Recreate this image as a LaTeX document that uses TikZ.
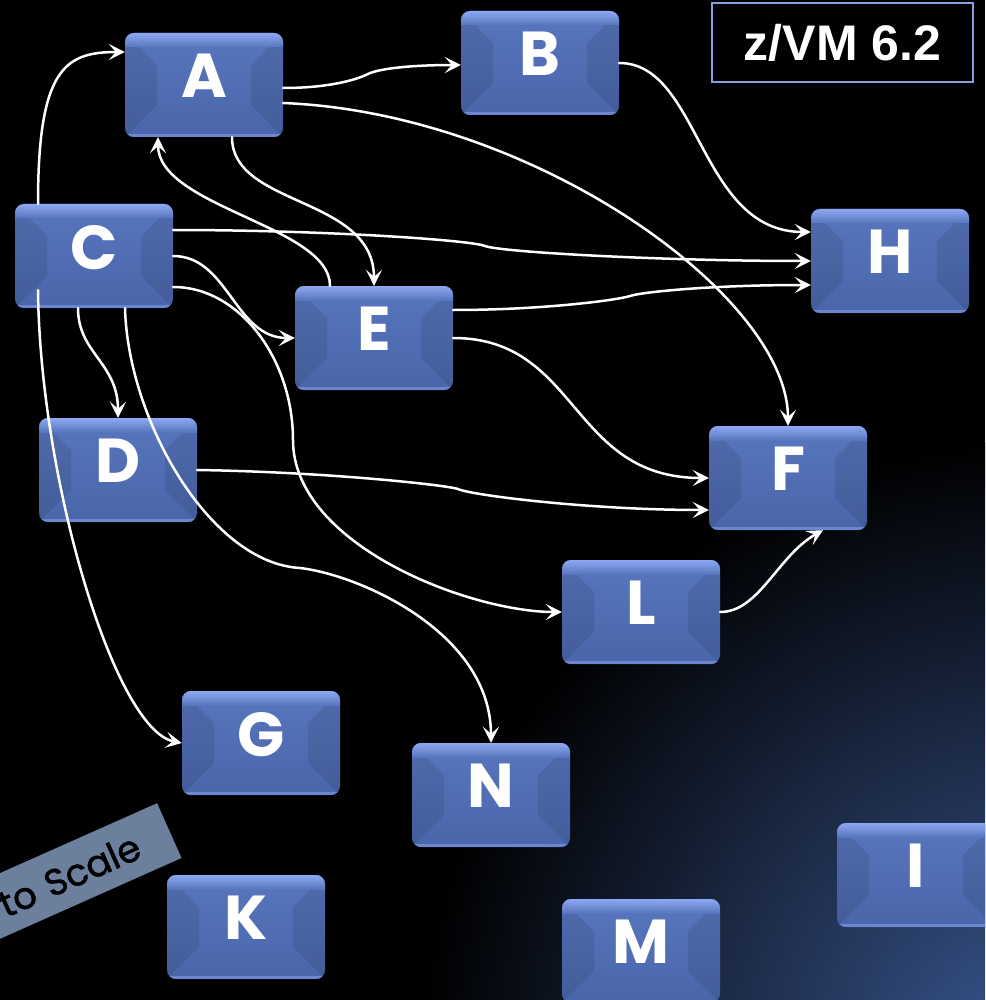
\documentclass[tikz,border=0pt]{standalone}
\usepackage{fontspec}
\usepackage{tikz}
\usetikzlibrary{arrows.meta,calc}
\newfontfamily\handfont{Poppins}
\newfontfamily\notefont{Poppins}[FakeBold=1.3]
\newfontfamily\vmfont{Liberation Sans}
\definecolor{boxhi}{RGB}{88,118,190}
\definecolor{boxlo}{RGB}{74,102,170}
\definecolor{boxtop}{RGB}{140,168,242}
\definecolor{boxedge}{RGB}{108,134,208}
\definecolor{tagblue}{RGB}{130,160,225}
\definecolor{notegray}{RGB}{108,128,157}
\definecolor{glow}{RGB}{58,88,146}
\tikzset{
  sbox/.style={rounded corners=9pt, minimum width=158pt, minimum height=104pt,
               inner sep=0pt, top color=boxhi, bottom color=boxlo, text=white,
               font=\handfont\bfseries\fontsize{62}{62}\selectfont, text depth=18pt,
               path picture={
                 % bevel: darker side panels, light top rim, light bottom rim
                 \fill[black, opacity=0.09, sharp corners]
                   (path picture bounding box.north west) -- ++(32pt,-32pt)
                   -- ([shift={(32pt,32pt)}]path picture bounding box.south west)
                   -- (path picture bounding box.south west) -- cycle;
                 \fill[black, opacity=0.09, sharp corners]
                   (path picture bounding box.north east) -- ++(-32pt,-32pt)
                   -- ([shift={(-32pt,32pt)}]path picture bounding box.south east)
                   -- (path picture bounding box.south east) -- cycle;
                 \shade[top color=boxtop, bottom color=boxhi, sharp corners]
                   (path picture bounding box.north west)
                   rectangle ([yshift=-14pt]path picture bounding box.north east);
                 \fill[boxedge, sharp corners] (path picture bounding box.south west)
                   rectangle ([yshift=3pt]path picture bounding box.south east);
               }},
  sflow/.style={draw=white, line width=2.5pt, line cap=round,
                -{Stealth[length=16pt, width=16pt, inset=7pt]}},
  stag/.style={draw=tagblue, line width=1.5pt, fill=black, text=white,
               minimum width=261pt, minimum height=79pt,
               font=\vmfont\bfseries\fontsize{50}{50}\selectfont},
  snote/.style={fill=notegray, rotate=24, text width=300pt, align=right,
                minimum height=60pt, inner xsep=34pt, text=black,
                font=\notefont\fontsize{37}{37}\selectfont},
}

\begin{document}
\begin{tikzpicture}[x=1pt, y=1pt]
  \useasboundingbox (0,0) rectangle (985,-1000);
  \clip (0,0) rectangle (985,-1000);
  % backdrop
  \fill[black] (0,0) rectangle (985,-1000);
  \shade[inner color=glow, outer color=black] (1040,-1060) circle (620);

  % systems
  \node[sbox] (A) at (204,-85) {A};
  \node[sbox] (B) at (540,-63) {B};
  \node[sbox] (C) at (94,-256) {C};
  \node[sbox] (E) at (374,-338) {E};
  \node[sbox] (H) at (890,-261) {H};
  \node[sbox] (D) at (118,-470) {D};
  \node[sbox] (F) at (788,-478) {F};
  \node[sbox] (L) at (641,-612) {L};
  \node[sbox] (G) at (261,-743) {G};
  \node[sbox] (N) at (491,-795) {N};
  \node[sbox] (I) at (916,-875) {I};
  \node[sbox] (K) at (246,-927) {K};
  \node[sbox] (M) at (641,-951) {M};

  \node[stag] (ver) at (842.5,-42.5) {z/VM 6.2};
  \node[snote, anchor=east] (scale) at (169.5,-830.5) {to Scale};

  % dependencies
  \draw[sflow] ([xshift=-56pt]C.north) .. controls +(0,135) and +(-60,0) .. ([yshift=33pt]A.west);
  \draw[sflow] ([yshift=-3pt]A.east) .. controls +(45,0) and +(-12,-6) .. (368,-74)
                .. controls +(12,6) and +(-45,0) .. ([yshift=-2pt]B.west);
  \draw[sflow] ([yshift=-18pt]A.east) .. controls +(250,-10) and +(0,130) .. (F.north);
  \draw[sflow] ([xshift=28pt]A.south) .. controls +(0,-70) and +(0,90) .. (E.north);
  \draw[sflow] ([xshift=-44pt]E.north) .. controls +(0,60) and +(0,-70) .. ([xshift=-46pt]A.south);
  \draw[sflow] (B.east) .. controls +(81,0) and +(-112,0) .. ([yshift=29pt]H.west);
  \draw[sflow] ([yshift=26pt]C.east) .. controls +(150,0) and +(-15,6) .. (485,-246)
                .. controls +(15,-6) and +(-150,0) .. (H.west);
  \draw[sflow] ([yshift=28pt]E.east) .. controls +(90,0) and +(-12,-4) .. (630,-296)
                .. controls +(12,4) and +(-100,0) .. ([yshift=-24pt]H.west);
  \draw[sflow] (C.east) .. controls +(55,0) and +(-60,0) .. (E.west);
  \draw[sflow] ([yshift=-31pt]C.east) .. controls +(67,0) and +(0,80) .. (293,-440)
                .. controls +(0,-105) and +(-92,0) .. (L.west);
  \draw[sflow] ([xshift=-16pt]C.south) .. controls +(0,-45) and +(0,55) .. (D.north);
  \draw[sflow] ([xshift=-56pt,yshift=18pt]C.south) .. controls +(2,-190) and +(-67,13) .. (G.west);
  \draw[sflow] ([xshift=31pt]C.south) .. controls +(3,-112) and +(-90,5) .. (300,-568)
                .. controls +(60,-7) and +(0,110) .. (N.north);
  \draw[sflow] (D.east) .. controls +(130,-2) and +(-12,4) .. (458,-489)
                .. controls +(12,-6) and +(-120,0) .. ([yshift=-32pt]F.west);
  \draw[sflow] (E.east) .. controls +(126,0) and +(-139,0) .. (F.west);
  \draw[sflow] (L.east) .. controls +(39,0) and +(-45,-25) .. ([xshift=35pt]F.south);
\end{tikzpicture}
\end{document}
